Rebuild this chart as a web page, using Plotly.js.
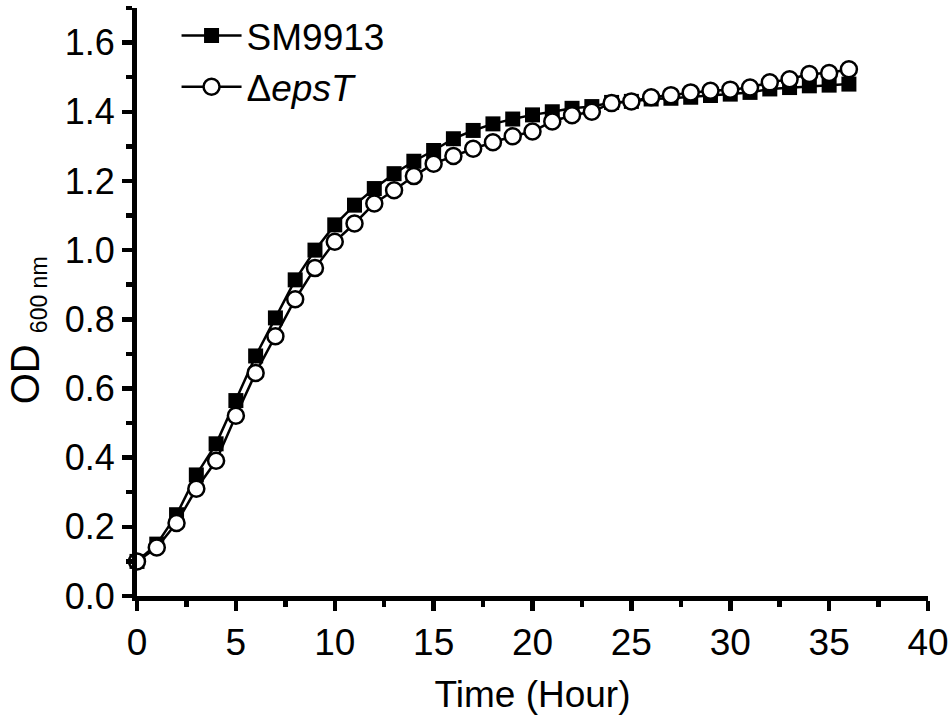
<!DOCTYPE html>
<html>
<head>
<meta charset="utf-8">
<script src="https://cdn.plot.ly/plotly-3.0.1.min.js"></script>
<style>
  html, body { margin: 0; padding: 0; background: #fff; }
  #chart { width: 950px; height: 722px; }
</style>
</head>
<body>
<div id="chart"></div>
<script>
/* ── Growth curve: OD600 vs time ── */

const HOURS = [0,1,2,3,4,5,6,7,8,9,10,11,12,13,14,15,16,17,18,
               19,20,21,22,23,24,25,26,27,28,29,30,31,32,33,34,35,36];

const OD_WT = [0.10,0.15,0.235,0.35,0.44,0.565,0.694,0.804,0.914,1.0,
               1.073,1.13,1.178,1.221,1.257,1.288,1.322,1.346,1.365,
               1.379,1.391,1.40,1.41,1.415,1.427,1.43,1.437,1.439,
               1.442,1.447,1.451,1.456,1.466,1.47,1.475,1.477,1.48];

const OD_EPST = [0.10,0.14,0.211,0.31,0.391,0.521,0.645,0.751,0.858,0.948,
                 1.024,1.077,1.135,1.173,1.214,1.25,1.272,1.293,1.312,
                 1.329,1.343,1.372,1.39,1.40,1.425,1.43,1.442,1.448,
                 1.456,1.461,1.464,1.47,1.485,1.494,1.509,1.512,1.523];

const FONT = 'Arial, "Liberation Sans", sans-serif';

const traces = [
    {
        x: HOURS, y: OD_WT,
        mode: 'lines+markers',
        name: 'SM9913',
        line: { color: '#000', width: 2.5 },
        marker: { symbol: 'square', size: 15, color: '#000' },
        cliponaxis: false,
    },
    {
        x: HOURS, y: OD_EPST,
        mode: 'lines+markers',
        name: '\u0394<i>epsT</i>',
        line: { color: '#000', width: 2.5 },
        marker: { symbol: 'circle', size: 16, color: '#fff', line: { color: '#000', width: 2.5 } },
        cliponaxis: false,
    },
];

const axisCommon = {
    showline: true, linecolor: '#000', linewidth: 5,
    ticks: 'outside', ticklen: 10, tickwidth: 4.5, tickcolor: '#000',
    showgrid: false, zeroline: false, mirror: false,
    fixedrange: true,
};

const layout = {
    width: 950, height: 722,
    margin: { l: 137, r: 22, t: 5, b: 126 },
    paper_bgcolor: '#fff', plot_bgcolor: '#fff',
    font: { family: FONT, color: '#000' },
    showlegend: true,
    legend: {
        x: 0.05, y: 1.005, xanchor: 'left', yanchor: 'top',
        font: { size: 37, family: FONT, color: '#000' },
        bgcolor: 'rgba(0,0,0,0)', itemwidth: 60, tracegroupgap: 0,
    },
    xaxis: Object.assign({}, axisCommon, {
        range: [0, 40], dtick: 5, tick0: 0,
        tickfont: { size: 37, family: FONT },
        minor: { dtick: 2.5, ticks: 'outside', ticklen: 6, tickwidth: 4.5, tickcolor: '#000' },
        title: { text: 'Time (Hour)', font: { size: 37, family: FONT }, standoff: 20 },
    }),
    yaxis: Object.assign({}, axisCommon, {
        range: [0, 1.7], dtick: 0.2, tick0: 0, tickformat: '.1f',
        tickfont: { size: 36, family: FONT },
        minor: { dtick: 0.1, ticks: 'outside', ticklen: 6, tickwidth: 4.5, tickcolor: '#000' },
    }),
    // y title as an annotation so it can sit below the plot centre like the original
    annotations: [{
        text: 'OD <sub><span style="font-size:23px">600 nm</span></sub>',
        xref: 'paper', yref: 'paper', x: -0.139, y: 0.452,
        xanchor: 'center', yanchor: 'middle', textangle: -90,
        showarrow: false, font: { size: 40, family: FONT, color: '#000' },
    }],
};

Plotly.newPlot('chart', traces, layout, { displayModeBar: false, staticPlot: true });
</script>
</body>
</html>
